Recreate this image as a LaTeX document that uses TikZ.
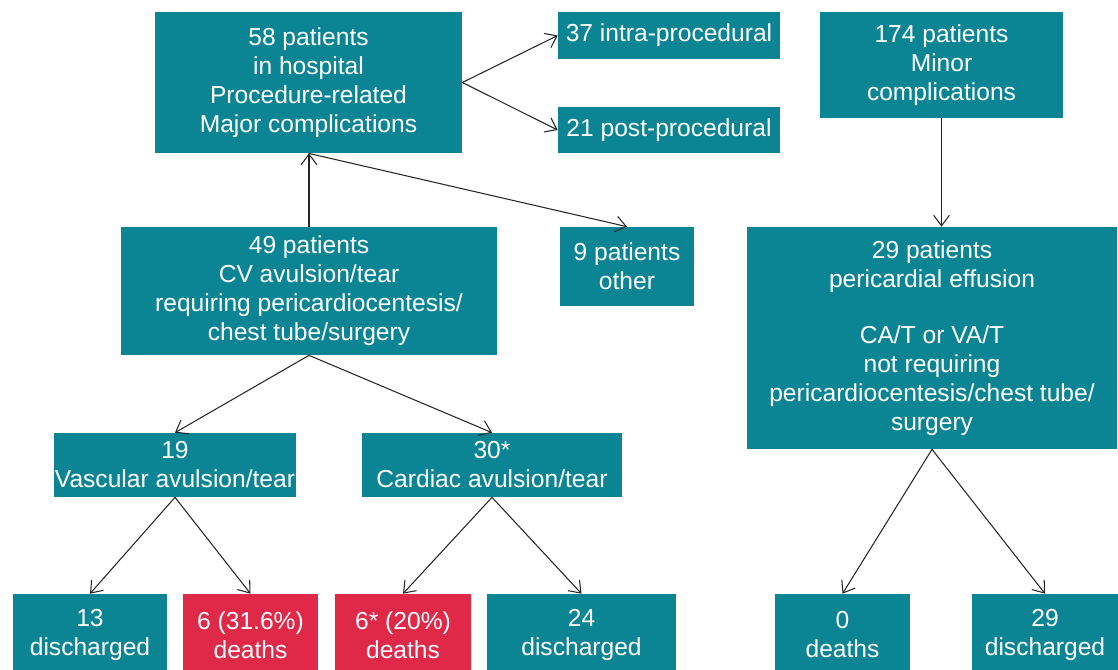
\documentclass[tikz,border=0pt]{standalone}
\usepackage{fontspec}
\setmainfont{Liberation Sans}
\usepackage{xcolor}
\usetikzlibrary{arrows.meta}

\definecolor{tealbox}{RGB}{11,133,147}
\definecolor{redbox}{RGB}{224,40,72}

\begin{document}
\begin{tikzpicture}[
    x=0.02cm, y=-0.02cm,
    >={Straight Barb[length=6pt,width=9pt]},
    box/.style={fill=tealbox, text=white, align=center, inner sep=0pt,
        font=\fontsize{14}{16.5}\selectfont},
    deathbox/.style={box, fill=redbox},
    arr/.style={->, line width=0.6pt, draw=black!85}
]

    \useasboundingbox (0,0) rectangle (1118,669);

    % Top row
    \node[box, minimum width=6.14cm, minimum height=2.82cm] (major) at (308.5,82.5)
        {58 patients\\in hospital\\Procedure-related\\Major complications};
    \node[box, minimum width=4.44cm, minimum height=0.94cm] (intra) at (669,35.5)
        {37 intra-procedural};
    \node[box, minimum width=4.44cm, minimum height=0.92cm] (post) at (669,130)
        {21 post-procedural};
    \node[box, minimum width=4.86cm, minimum height=2.12cm] (minor) at (941.5,65)
        {174 patients\\Minor\\complications};

    % Middle row
    \node[box, minimum width=7.52cm, minimum height=2.56cm] (cv) at (309,291)
        {49 patients\\CV avulsion/tear\\requiring pericardiocentesis/\\chest tube/surgery};
    \node[box, minimum width=2.68cm, minimum height=1.58cm] (other) at (627,266.5)
        {9 patients\\other};
    \node[box, minimum width=7.42cm, minimum height=4.44cm] (effusion) at (932,338)
        {29 patients\\pericardial effusion\\[15pt]CA/T or VA/T\\not requiring\\pericardiocentesis/chest tube/\\surgery};

    % Avulsion split
    \node[box, minimum width=4.84cm, minimum height=1.28cm] (vasc) at (175,465)
        {19\\Vascular avulsion/tear};
    \node[box, minimum width=5.20cm, minimum height=1.28cm] (card) at (492,465)
        {30*\\Cardiac avulsion/tear};

    % Outcomes
    \node[box, minimum width=3.08cm, minimum height=1.64cm] (dis13) at (90,635)
        {13\\discharged};
    \node[deathbox, minimum width=2.70cm, minimum height=1.64cm] (dth6a) at (250.5,635)
        {6 (31.6\%)\\deaths};
    \node[deathbox, minimum width=2.72cm, minimum height=1.64cm] (dth6b) at (403,635)
        {6* (20\%)\\deaths};
    \node[box, minimum width=3.78cm, minimum height=1.64cm] (dis24) at (581.5,635)
        {24\\discharged};
    \node[box, minimum width=2.70cm, minimum height=1.64cm] (dth0) at (842.5,635)
        {0\\deaths};
    \node[box, minimum width=2.92cm, minimum height=1.64cm] (dis29) at (1045,635)
        {29\\discharged};

    % Connectors
    \draw[arr] (major.east) -- (intra.west);
    \draw[arr] (major.east) -- (post.west);
    \draw[arr] (cv.north) -- (cv.north |- major.south);
    \draw[arr] (major.south) -- (other.north);
    \draw[arr] (minor.south) -- (minor.south |- effusion.north);

    \draw[arr] (cv.south) -- (vasc.north);
    \draw[arr] (cv.south) -- (card.north);
    \draw[arr] (vasc.south) -- (dis13.north);
    \draw[arr] (vasc.south) -- (dth6a.north);
    \draw[arr] (card.south) -- (dth6b.north);
    \draw[arr] (card.south) -- (dis24.north);
    \draw[arr] (effusion.south) -- (dth0.north);
    \draw[arr] (effusion.south) -- (dis29.north);

\end{tikzpicture}
\end{document}
